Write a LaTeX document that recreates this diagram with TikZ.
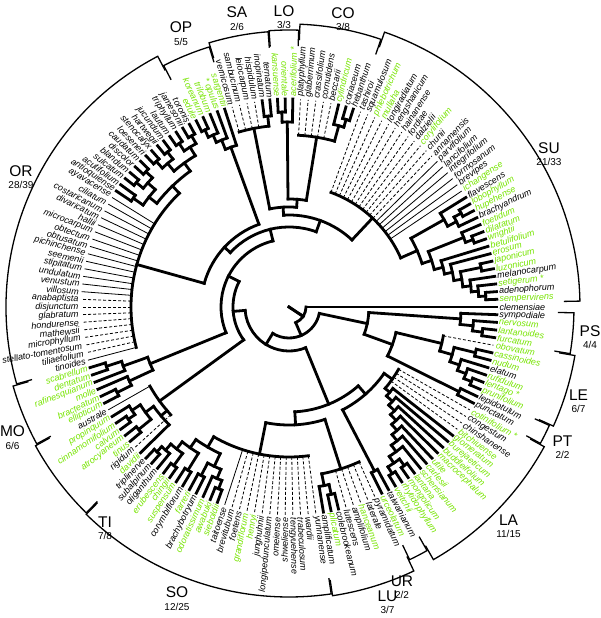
\documentclass[tikz,border=0pt]{standalone}
\usepackage{fontspec}
\setmainfont{Liberation Sans}
\definecolor{spgreen}{RGB}{118,228,0}
\newcommand{\da}{2.117647}
% inner node: radius, first child, last child, stem position, parent radius
\newcommand{\innernode}[5]{%
  \draw[brn] ({(#4)*\da}:#5pt) -- ({(#4)*\da}:#1pt);
  \draw[brn] ({(#2)*\da}:#1pt) arc[start angle={(#2)*\da}, end angle={(#3)*\da}, radius=#1pt];}
% clade bracket: radius, first leaf, last leaf
\newcommand{\cladebracket}[3]{%
  \pgfmathsetmacro{\brA}{(#2-0.45)*\da}%
  \pgfmathsetmacro{\brB}{(#3+0.45)*\da}%
  \pgfmathsetmacro{\brR}{#1-16}%
  \draw[brk] (\brA:\brR pt) -- (\brA:#1pt) arc[start angle=\brA, end angle=\brB, radius=#1pt] -- (\brB:\brR pt);}
% clade name and count
\newcommand{\cladename}[4]{%
  \node[cladelbl] (lab#1) at (#2,#3) {#1};
  \node[cladenum] (num#1) at (#2,#3-14) {#4};}

\begin{document}
\begin{tikzpicture}[
    x=1pt, y=1pt,
    brn/.style={line width=2.8pt, line cap=rect},
    tipS/.style={line width=0.8pt},
    tipD/.style={line width=0.8pt, dash pattern=on 3pt off 2pt},
    brk/.style={line width=1.3pt},
    sp/.style={font=\fontsize{9}{10}\selectfont\itshape, inner sep=1pt},
    cladelbl/.style={font=\fontsize{15.5}{17}\selectfont, inner sep=0pt},
    cladenum/.style={font=\fontsize{10}{12}\selectfont, inner sep=0pt},
]
\useasboundingbox (-289,-311) rectangle (311,307);

% Leaves: position / start radius / line / colour / name
\foreach \ix/\rr/\st/\col/\nm in {
  0/17/brn/black/clemensiae,
  1/197/brn/spgreen/sempervirens, 2/197/brn/black/adenophorum, 3/190/brn/spgreen/setigerum~*,
  4/183/brn/black/melanocarpum, 5/196/brn/spgreen/luzonicum, 6/196/brn/spgreen/japonicum,
  7/167/brn/spgreen/erosum, 8/159/brn/spgreen/betulifolium, 9/196/brn/spgreen/wrightii,
  10/196/brn/spgreen/dilatatum, 11/188/brn/spgreen/foetidum, 12/188/brn/black/brachyandrum,
  13/196/brn/spgreen/hupehense, 14/196/brn/spgreen/lobophyllum, 15/178/brn/black/flavescens,
  16/122/tipS/spgreen/ichangense, 17/122/tipS/black/brevipes, 18/122/tipS/black/formosanum,
  19/122/tipS/black/integrifolium, 20/122/tipS/black/lancifolium, 21/122/tipS/black/parvifolium,
  22/122/tipD/black/annamensis, 23/122/tipD/black/chunii, 24/122/tipD/spgreen/corylifolium,
  25/122/tipD/black/dalzielii, 26/122/tipD/black/fordiae, 27/122/tipD/black/hainanense,
  28/122/tipD/black/hengshanicum, 29/122/tipD/black/longiradiatum, 30/122/tipD/spgreen/mullaha,
  31/122/tipD/spgreen/phlebotrichum, 32/122/tipD/black/squamulosum, 33/122/tipD/black/tashiroi,
  34/196/brn/black/hebanthum, 35/196/brn/black/coriaceum, 36/188/brn/spgreen/cylindricum,
  37/172/tipD/black/beccarii, 38/172/tipD/black/cornutidens, 39/172/tipD/black/crassifolium,
  40/172/tipD/black/glaberrimum, 41/172/tipD/black/platyphyllum,
  42/185/brn/spgreen/acerifolium~*, 43/195/brn/spgreen/orientale, 44/195/brn/spgreen/kansuense,
  45/192/brn/black/ternatum, 46/192/brn/black/inopinatum, 47/182/tipD/black/hispidulum,
  48/182/tipD/black/leiocarpum, 49/182/tipD/black/sambucinum, 50/182/tipD/black/vernicosum,
  51/170/brn/spgreen/sargentii, 52/180/brn/spgreen/*~opulus, 53/188/brn/spgreen/trilobum,
  54/196/brn/spgreen/koreanum, 55/196/brn/spgreen/edule,
  56/197/brn/black/toronis, 57/197/brn/black/jamesonii, 58/197/brn/black/triphyllum,
  59/197/brn/black/lautum, 60/197/brn/black/jucundum, 61/197/brn/black/hartwegii,
  62/197/brn/black/stenocalyx, 63/197/brn/black/loeseneri, 64/197/brn/black/caudatum,
  65/197/brn/black/discolor, 66/197/brn/black/blandum, 67/197/brn/black/sulcatum,
  68/190/brn/black/acutifolium, 69/190/brn/black/antioquiense,
  70/158/tipS/black/ayavacense, 71/158/tipS/black/ciliatum, 72/158/tipS/black/costaricanum,
  73/158/tipS/black/divaricatum, 74/158/tipS/black/hallii, 75/158/tipS/black/microcarpum,
  76/158/tipS/black/obtectum, 77/158/tipS/black/obtusatum, 78/158/tipS/black/pichinchense,
  79/158/tipS/black/seemenii, 80/158/tipS/black/stipitatum, 81/158/tipS/black/undulatum,
  82/158/tipS/black/venustum, 83/158/tipS/black/villosum,
  84/158/tipD/black/anabaptista, 85/158/tipD/black/disjunctum, 86/158/tipD/black/glabratum,
  87/158/tipD/black/hondurense, 88/158/tipD/black/mathewsii, 89/158/tipD/black/microphyllum,
  90/158/tipD/black/stellato-tomentosum, 91/158/tipD/black/tiliaefolium, 92/158/tipS/black/tinoides,
  93/192/brn/spgreen/scabrellum, 94/192/brn/spgreen/dentatum, 95/176/brn/spgreen/rafinesquianum,
  96/176/brn/spgreen/molle, 97/192/brn/spgreen/bracteatum, 98/192/brn/spgreen/ellipticum,
  99/160/tipS/black/australe, 100/188/brn/spgreen/propinquum, 101/196/brn/spgreen/cinnamomifolium,
  102/196/brn/spgreen/calvum, 103/194/brn/spgreen/atrocyaneum, 104/194/brn/spgreen/tinus,
  105/160/tipD/black/rigidum, 106/168/brn/spgreen/davidii,
  107/196/brn/black/triplinerve, 108/196/brn/black/subalpinum, 109/189/brn/black/oliganthum,
  110/196/brn/spgreen/erubescens, 111/196/brn/spgreen/chingii, 112/192/brn/spgreen/suspensum,
  113/192/brn/black/corymbiflorum, 114/190/brn/spgreen/farreri, 115/190/brn/black/brachybotryum,
  116/186/brn/spgreen/odoratissimum, 117/195/brn/spgreen/awabuki, 118/195/brn/spgreen/sieboldii,
  119/150/tipS/black/taitoense, 120/150/tipD/black/brevitubum, 121/150/tipD/black/foetens,
  122/150/tipD/spgreen/grandiflorum, 123/150/tipD/spgreen/henryi, 124/150/tipD/black/junghuhnii,
  125/150/tipD/black/longipedunculatum, 126/150/tipD/black/omeiense, 127/150/tipD/black/shweliense,
  128/150/tipD/black/tengyuehense, 129/150/tipD/black/trabeculosum, 130/150/tipD/black/wardii,
  131/150/tipD/black/yunnanense,
  132/182/brn/black/amplificatum, 133/192/brn/spgreen/plicatum, 134/192/brn/black/colebrookeanum,
  135/170/tipD/black/lutescens, 136/170/tipD/black/amplifolium, 137/170/tipD/spgreen/hanceanum,
  138/170/tipD/black/laterale, 139/170/tipD/black/pyramidatum,
  140/185/brn/spgreen/urceolatum, 141/185/brn/black/taiwanianum,
  142/196/brn/spgreen/veitchii, 143/196/brn/spgreen/rhytidophyllum, 144/196/brn/spgreen/mongolicum,
  145/196/brn/spgreen/lantana, 146/180/brn/spgreen/schensianum, 147/172/brn/spgreen/carlesii,
  148/164/brn/spgreen/utile, 149/156/brn/spgreen/macrocephalum, 150/148/brn/spgreen/buddleifolium,
  151/140/brn/spgreen/burejaeticum, 152/132/brn/spgreen/glomeratum, 153/126/tipD/spgreen/bitchiuense,
  154/126/tipD/black/chinshanense, 155/126/tipD/black/congestum, 156/126/tipD/spgreen/cotinifolium~*,
  157/190/brn/black/punctatum, 158/190/brn/black/lepidotulum,
  159/197/brn/spgreen/prunifolium, 160/197/brn/spgreen/lentago~*, 161/189/brn/spgreen/rufidulum,
  162/180/brn/black/elatum, 163/192/brn/spgreen/nudum, 164/192/brn/spgreen/cassinoides,
  165/157/tipD/spgreen/obovatum,
  166/195/brn/spgreen/furcatum, 167/195/brn/spgreen/lantanoides, 168/185/brn/spgreen/nervosum,
  169/172/brn/black/sympodiale} {
    \draw[\st] ({\ix*\da}:\rr pt) -- ({\ix*\da}:208pt);
    \pgfmathsetmacro{\leafang}{\ix*\da}
    \ifdim\leafang pt<90pt
      \node[sp, text=\col, anchor=west, rotate=\leafang] (sp\ix) at (\leafang:209.5pt) {\nm};
    \else\ifdim\leafang pt<270pt
      \node[sp, text=\col, anchor=east, rotate=\leafang-180] (sp\ix) at (\leafang:209.5pt) {\nm};
    \else
      \node[sp, text=\col, anchor=west, rotate=\leafang] (sp\ix) at (\leafang:209.5pt) {\nm};
    \fi\fi
}

% Backbone
\draw[brn] ({154.23*\da}:0pt) -- ({154.23*\da}:17pt);
\innernode{17}{138.45}{170}{154.23}{0}
\innernode{31}{112.56}{164.35}{138.45}{17}
\innernode{44}{87.11}{138}{112.56}{31}
\innernode{56}{72.22}{102}{87.11}{44}
\innernode{68}{48.94}{95.5}{72.22}{56}
\innernode{80}{33.1}{64.78}{48.94}{68}

% PS, LE, PT
\innernode{80}{160.58}{168.13}{164.35}{31}
\innernode{172}{167.25}{169}{168.13}{80}
\innernode{185}{166.5}{168}{167.25}{172}
\innernode{195}{166}{167}{166.5}{185}
\innernode{110}{157.5}{163.66}{160.58}{80}
\innernode{190}{157}{158}{157.5}{110}
\innernode{157}{162.31}{165}{163.66}{110}
\innernode{170}{161.13}{163.5}{162.31}{157}
\innernode{192}{163}{164}{163.5}{170}
\innernode{180}{160.25}{162}{161.13}{170}
\innernode{189}{159.5}{161}{160.25}{180}
\innernode{197}{159}{160}{159.5}{189}

% SO, LU, UR, LA
\innernode{105}{129.01}{147}{138}{44}
\innernode{118}{122.14}{135.88}{129.01}{105}
\innernode{150}{113.28}{131}{122.14}{118}
\innernode{162}{110.94}{115.63}{113.28}{150}
\innernode{172}{109.38}{112.5}{110.94}{162}
\innernode{181}{108.25}{110.5}{109.38}{172}
\innernode{189}{107.5}{109}{108.25}{181}
\innernode{196}{107}{108}{107.5}{189}
\innernode{196}{110}{111}{110.5}{181}
\innernode{192}{112}{113}{112.5}{172}
\innernode{176}{114.5}{116.75}{115.63}{162}
\innernode{190}{114}{115}{114.5}{176}
\innernode{186}{116}{117.5}{116.75}{176}
\innernode{195}{117}{118}{117.5}{186}
\innernode{170}{132.75}{139}{135.88}{118}
\innernode{182}{132}{133.5}{132.75}{170}
\innernode{192}{133}{134}{133.5}{182}
\innernode{116}{140.5}{153.5}{147}{105}
\innernode{185}{140}{141}{140.5}{116}
\innernode{126}{150.99}{156}{153.5}{116}
\innernode{132}{149.99}{152}{150.99}{126}
\innernode{140}{148.98}{151}{149.99}{132}
\innernode{148}{147.97}{150}{148.98}{140}
\innernode{156}{146.94}{149}{147.97}{148}
\innernode{164}{145.88}{148}{146.94}{156}
\innernode{172}{144.75}{147}{145.88}{164}
\innernode{180}{143.5}{146}{144.75}{172}
\innernode{188}{142.5}{144.5}{143.5}{180}
\innernode{196}{142}{143}{142.5}{188}
\innernode{196}{144}{145}{144.5}{188}

% TI
\innernode{160}{99}{105}{102}{56}
\innernode{168}{102.13}{106}{104.06}{160}
\innernode{178}{100.75}{103.5}{102.13}{168}
\innernode{188}{100}{101.5}{100.75}{178}
\innernode{196}{101}{102}{101.5}{188}
\innernode{194}{103}{104}{103.5}{178}

% MO
\innernode{150}{94.25}{96.75}{95.5}{68}
\innernode{176}{93.5}{95}{94.25}{150}
\innernode{192}{93}{94}{93.5}{176}
\innernode{176}{96}{97.5}{96.75}{150}
\innernode{192}{97}{98}{97.5}{176}

% OR, OP
\innernode{88}{51.94}{77.63}{64.78}{80}
\innernode{170}{51}{52.88}{51.94}{88}
\innernode{180}{52}{53.75}{52.88}{170}
\innernode{188}{53}{54.5}{53.75}{180}
\innernode{196}{54}{55}{54.5}{188}
\innernode{158}{63.25}{92}{77.63}{88}
\innernode{168}{59.5}{67}{63.25}{158}
\innernode{178}{57.5}{61.5}{59.5}{168}
\innernode{188}{56.5}{58.5}{57.5}{178}
\innernode{197}{56}{57}{56.5}{188}
\innernode{197}{58}{59}{58.5}{188}
\innernode{188}{60.5}{62.5}{61.5}{178}
\innernode{197}{60}{61}{60.5}{188}
\innernode{197}{62}{63}{62.5}{188}
\innernode{178}{65.5}{68.5}{67}{168}
\innernode{188}{64.5}{66.5}{65.5}{178}
\innernode{197}{64}{65}{64.5}{188}
\innernode{197}{66}{67}{66.5}{188}
\innernode{190}{68}{69}{68.5}{178}

% SA, LO, CO
\innernode{92}{22.1}{44.1}{33.1}{80}
\innernode{100}{40.44}{47.75}{44.1}{92}
\innernode{182}{45.5}{50}{47.75}{100}
\innernode{192}{45}{46}{45.5}{182}
\innernode{108}{38.13}{42.75}{40.44}{100}
\innernode{185}{42}{43.5}{42.75}{108}
\innernode{195}{43}{44}{43.5}{185}
\innernode{172}{35.25}{41}{38.13}{108}
\innernode{188}{34.5}{36}{35.25}{172}
\innernode{196}{34}{35}{34.5}{188}

% SU
\innernode{122}{11.21}{33}{22.1}{92}
\innernode{140}{8.54}{13.88}{11.21}{122}
\innernode{150}{6.83}{10.25}{8.54}{140}
\innernode{159}{5.66}{8}{6.83}{150}
\innernode{167}{4.31}{7}{5.66}{159}
\innernode{175}{3.13}{5.5}{4.31}{167}
\innernode{183}{2.25}{4}{3.13}{175}
\innernode{190}{1.5}{3}{2.25}{183}
\innernode{197}{1}{2}{1.5}{190}
\innernode{196}{5}{6}{5.5}{175}
\innernode{188}{9.5}{11}{10.25}{150}
\innernode{196}{9}{10}{9.5}{188}
\innernode{178}{12.75}{15}{13.88}{140}
\innernode{188}{12}{13.5}{12.75}{178}
\innernode{196}{13}{14}{13.5}{188}

% Clade brackets
\cladebracket{291}{1}{33}
\cladebracket{283}{34}{41}
\cladebracket{277}{42}{44}
\cladebracket{276}{45}{50}
\cladebracket{272}{51}{55}
\cladebracket{283}{56}{92}
\cladebracket{287}{93}{98}
\cladebracket{289}{99}{106}
\cladebracket{290}{107}{131}
\cladebracket{292}{132}{139}
\cladebracket{280}{140}{141}
\cladebracket{291}{142}{156}
\cladebracket{286}{157}{158}
\cladebracket{290}{159}{165}
\cladebracket{285}{166}{169}

% Clade names
\cladename{SU}{260}{159}{21/33}
\cladename{CO}{54}{294}{3/8}
\cladename{LO}{-5}{296}{3/3}
\cladename{SA}{-52}{294.5}{2/6}
\cladename{OP}{-108}{279.5}{5/5}
\cladename{OR}{-268}{136}{28/39}
\cladename{MO}{-276.5}{-124.5}{6/6}
\cladename{TI}{-184}{-215}{7/8}
\cladename{SO}{-112}{-285.5}{12/25}
\cladename{LU}{98.5}{-289}{3/7}
\cladename{UR}{113}{-274}{2/2}
\cladename{LA}{219.5}{-213}{11/15}
\cladename{PT}{273.5}{-134}{2/2}
\cladename{LE}{289.5}{-88}{6/7}
\cladename{PS}{301}{-24}{4/4}

\end{tikzpicture}
\end{document}
